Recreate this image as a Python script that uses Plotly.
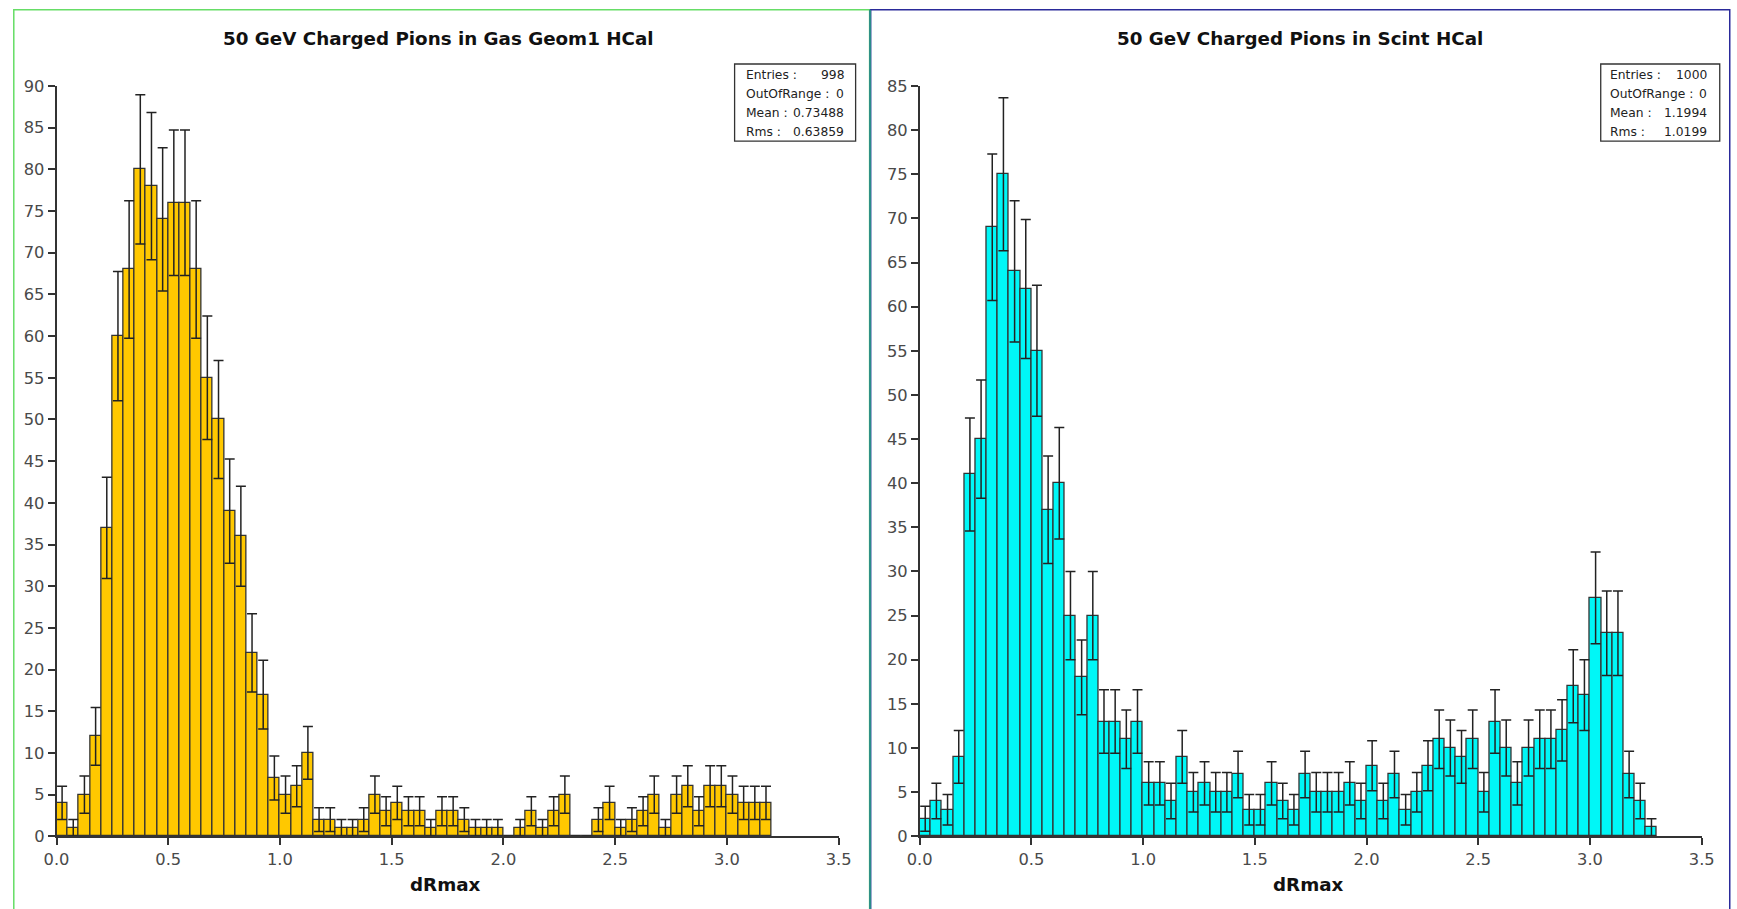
import numpy as np
import plotly.graph_objects as go

# The photographed page maps figure pixel f to screen pixel a + s*f (measured),
# so layout positions below are given in screen pixels and converted.
AX, SX = 12.5, 0.985
AY, SY = 8.0, 0.979
FW, FH = 1750, 920
BIN = 0.05

# ---- data (counts per 0.05 bin starting at 0.0) ----
gas_counts = [4, 1, 5, 12, 37, 60, 68, 80, 78, 74, 76, 76, 68, 55, 50, 39,
              36, 22, 17, 7, 5, 6, 10, 2, 2, 1, 1, 2, 5, 3, 4, 3,
              3, 1, 3, 3, 2, 1, 1, 1, 0, 1, 3, 1, 3, 5, 0, 0,
              2, 4, 1, 2, 3, 5, 1, 5, 6, 3, 6, 6, 5, 4, 4, 4]
scint_counts = [2, 4, 3, 9, 41, 45, 69, 75, 64, 62, 55, 37, 40, 25, 18, 25,
                13, 13, 11, 13, 6, 6, 4, 9, 5, 6, 5, 5, 7, 3, 3, 6,
                4, 3, 7, 5, 5, 5, 6, 4, 8, 4, 7, 3, 5, 8, 11, 10,
                9, 11, 5, 13, 10, 6, 10, 11, 11, 12, 17, 16, 27, 23, 23, 7,
                4, 1]

gas_title = "50 GeV Charged Pions in Gas Geom1 HCal"
scint_title = "50 GeV Charged Pions in Scint HCal"
x_title = "dRmax"
gas_stats = [("Entries :", "998"), ("OutOfRange :", "0"), ("Mean :", "0.73488"), ("Rms :", "0.63859")]
scint_stats = [("Entries :", "1000"), ("OutOfRange :", "0"), ("Mean :", "1.1994"), ("Rms :", "1.0199")]


def px(x):
    return (x - AX) / SX / FW


def py(y):
    return 1 - (y - AY) / SY / FH


def centers(counts):
    return [BIN * (i + 0.5) for i in range(len(counts))]


fig = go.Figure()

for counts, color, xa, ya in [(gas_counts, "#ffc800", "x", "y"),
                              (scint_counts, "#00f7f7", "x2", "y2")]:
    fig.add_trace(go.Bar(
        x=centers(counts), y=counts, width=BIN,
        marker=dict(color=color, line=dict(color="#333333", width=1.3)),
        error_y=dict(type="data", array=list(np.sqrt(counts)), visible=True,
                     color="#222222", thickness=1.5, width=5),
        xaxis=xa, yaxis=ya, showlegend=False, hoverinfo="x+y"))

tickfont = dict(family="DejaVu Sans", size=16.3, color="#4a4a4a")
axcommon = dict(showgrid=False, zeroline=False, showline=True, linecolor="#333333",
                linewidth=1.5, ticks="outside", ticklen=7, tickwidth=1.5,
                tickcolor="#333333", tickfont=tickfont)

fig.update_layout(
    width=FW, height=FH, autosize=False,
    margin=dict(l=0, r=0, t=0, b=0),
    paper_bgcolor="white", plot_bgcolor="rgba(0,0,0,0)",
    bargap=0,
    xaxis=dict(domain=[px(56), px(838)], range=[0, 3.5], dtick=0.5, tick0=0,
               tickformat=".1f", anchor="y", **axcommon),
    yaxis=dict(domain=[py(835), py(85)], range=[0, 90], dtick=5, tick0=0,
               anchor="x", **axcommon),
    xaxis2=dict(domain=[px(919), px(1701)], range=[0, 3.5], dtick=0.5, tick0=0,
                tickformat=".1f", anchor="y2", **axcommon),
    yaxis2=dict(domain=[py(835), py(85)], range=[0, 85], dtick=5, tick0=0,
                anchor="x2", **axcommon),
)

edge_x = 0.8 / FW
edge_y = 1 - 0.8 / FH
shapes = [
    # panel borders
    dict(type="rect", xref="paper", yref="paper", x0=edge_x, x1=px(869), y0=-0.02, y1=edge_y,
         line=dict(color="#66dd66", width=1.5), layer="below"),
    dict(type="rect", xref="paper", yref="paper", x0=px(870), x1=px(1729), y0=-0.02, y1=edge_y,
         line=dict(color="#2a2a9a", width=1.5), layer="below"),
    dict(type="line", xref="paper", yref="paper", x0=px(869.5), x1=px(869.5), y0=-0.02, y1=edge_y,
         line=dict(color="#2a8a8a", width=2), layer="below"),
    # stat boxes
    dict(type="rect", xref="paper", yref="paper", x0=px(734), x1=px(855), y0=py(140), y1=py(63),
         line=dict(color="#333333", width=1.3), fillcolor="white"),
    dict(type="rect", xref="paper", yref="paper", x0=px(1600), x1=px(1719), y0=py(140), y1=py(63),
         line=dict(color="#333333", width=1.3), fillcolor="white"),
]

annotations = []
for title, cx in [(gas_title, 438), (scint_title, 1299)]:
    annotations.append(dict(text="<b>%s</b>" % title, xref="paper", yref="paper",
                            x=px(cx), y=py(37), xanchor="center", yanchor="middle",
                            showarrow=False,
                            font=dict(family="DejaVu Sans", size=18.3, color="#111111")))
for cx in [445, 1308]:
    annotations.append(dict(text="<b>%s</b>" % x_title, xref="paper", yref="paper",
                            x=px(cx), y=py(883), xanchor="center", yanchor="middle",
                            showarrow=False,
                            font=dict(family="DejaVu Sans", size=18.3, color="#111111")))

row_y = [74, 93, 112, 131]
for stats, xl, xr in [(gas_stats, 743, 845), (scint_stats, 1607, 1708)]:
    for (lab, val), ry in zip(stats, row_y):
        annotations.append(dict(text=lab, xref="paper", yref="paper", x=px(xl), y=py(ry),
                                xanchor="left", yanchor="middle", showarrow=False,
                                font=dict(family="DejaVu Sans", size=12.3, color="#222222")))
        annotations.append(dict(text=val, xref="paper", yref="paper", x=px(xr), y=py(ry),
                                xanchor="right", yanchor="middle", showarrow=False,
                                font=dict(family="DejaVu Sans", size=12.3, color="#222222")))

fig.update_layout(shapes=shapes, annotations=annotations)

fig.write_html("out.html")
